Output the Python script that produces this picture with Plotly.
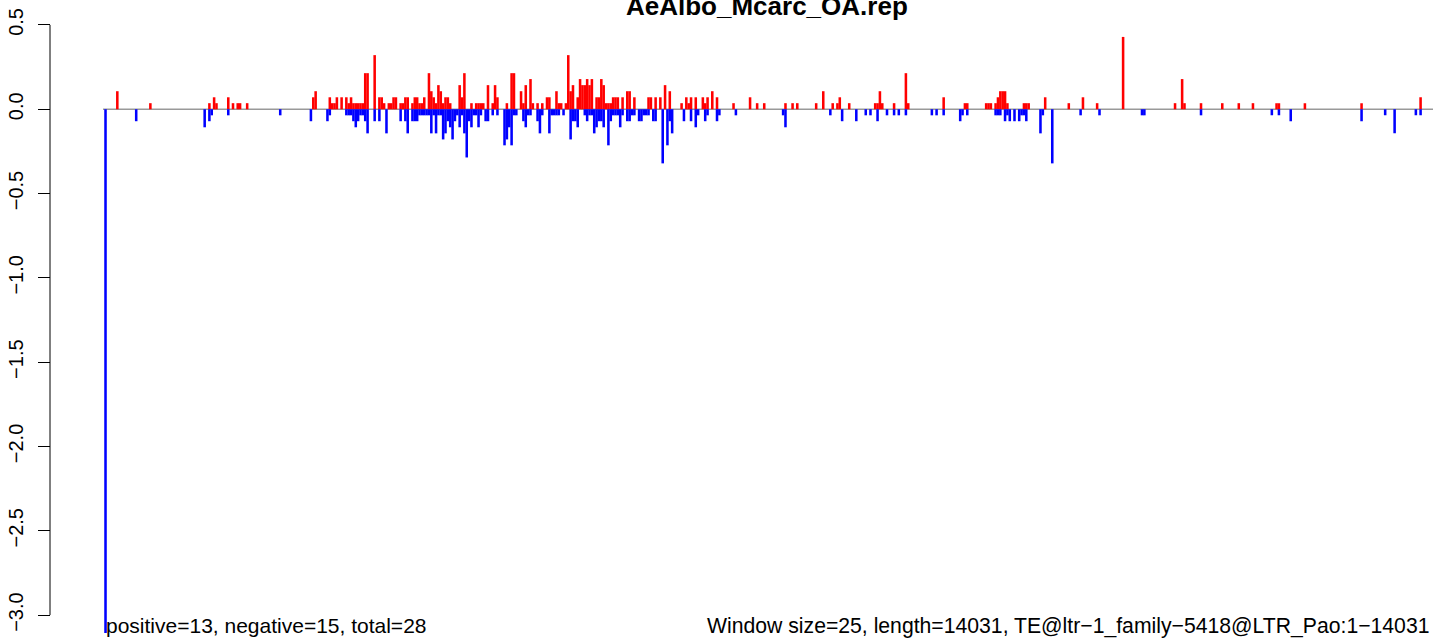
import plotly.graph_objects as go

# ---------------- data ----------------
window_size = 25
seq_length = 14031

pos_window = [5, 19, 44, 46, 47, 52, 54, 56, 57, 60,
              88, 89, 95, 96, 97, 98, 100, 102, 103, 104,
              105, 106, 107, 108, 109, 110, 111, 114, 116, 117,
              118, 120, 121, 122, 123, 125, 126, 127, 128, 130,
              131, 132, 133, 134, 135, 137, 138, 139, 140, 141,
              142, 143, 144, 145, 146, 150, 151, 152, 155, 157,
              158, 159, 160, 162, 164, 165, 166, 170, 172, 173,
              176, 177, 178, 180, 181, 183, 185, 187, 188, 191,
              192, 193, 195, 196, 197, 198, 200, 201, 202, 203,
              204, 205, 206, 208, 209, 210, 211, 212, 213, 214,
              215, 216, 217, 219, 221, 222, 224, 230, 231, 233,
              235, 237, 239, 244, 246, 247, 248, 250, 253, 254,
              255, 257, 259, 266, 273, 276, 279, 288, 291, 293,
              301, 304, 308, 310, 311, 315, 326, 327, 328, 329,
              334, 339, 340, 355, 364, 365, 373, 374, 375, 377,
              378, 379, 380, 381, 382, 389, 390, 391, 398, 408,
              414, 420, 431, 453, 456, 457, 464, 473, 480, 486,
              496, 497, 508, 532, 557]
pos_value = [.107, .036, .036, .071, .036, .071, .036, .036, .036, .036,
             .071, .107, .071, .036, .036, .071, .071, .071, .036, .071,
             .036, .036, .036, .036, .036, .214, .214, .321, .071, .071,
             .036, .036, .036, .071, .071, .036, .036, .071, .071, .036,
             .071, .071, .036, .036, .071, .214, .107, .071, .036, .143,
             .107, .036, .071, .071, .036, .143, .071, .214, .036, .036,
             .036, .036, .036, .143, .036, .143, .071, .036, .214, .214,
             .107, .036, .143, .179, .036, .036, .036, .071, .071, .107,
             .036, .036, .036, .321, .107, .143, .071, .179, .143, .143,
             .179, .143, .179, .071, .071, .179, .143, .036, .036, .036,
             .071, .071, .071, .071, .107, .107, .071, .071, .071, .071,
             .071, .143, .107, .036, .071, .036, .071, .071, .071, .036,
             .071, .107, .071, .036, .071, .036, .036, .036, .036, .036,
             .036, .107, .036, .036, .071, .036, .036, .036, .107, .036,
             .036, .214, .036, .071, .036, .036, .036, .036, .036, .036,
             .071, .107, .107, .107, .036, .036, .036, .036, .071, .036,
             .071, .036, .429, .036, .179, .036, .036, .036, .036, .036,
             .036, .036, .036, .036, .071]

neg_window = [0, 13, 42, 44, 45, 52, 74, 87, 94, 95,
              102, 103, 104, 105, 106, 107, 108, 109, 110, 111,
              114, 116, 119, 125, 127, 128, 130, 131, 132, 133,
              134, 135, 136, 137, 138, 139, 140, 141, 142, 143,
              144, 145, 146, 147, 148, 149, 150, 151, 152, 153,
              154, 155, 156, 157, 158, 159, 161, 162, 164, 166,
              169, 170, 171, 172, 173, 174, 177, 178, 179, 180,
              183, 184, 185, 188, 189, 190, 191, 192, 194, 197,
              198, 199, 200, 203, 204, 205, 206, 207, 208, 209,
              210, 211, 213, 214, 215, 216, 217, 218, 219, 221,
              222, 223, 224, 226, 227, 228, 229, 230, 232, 233,
              236, 238, 239, 240, 245, 248, 250, 251, 254, 255,
              259, 260, 267, 287, 288, 307, 312, 318, 322, 324,
              327, 331, 334, 336, 339, 350, 352, 355, 362, 363,
              365, 377, 378, 379, 381, 382, 383, 385, 387, 388,
              389, 390, 396, 397, 401, 413, 421, 439, 440, 464,
              494, 497, 502, 532, 542, 546, 555, 557]
neg_value = [-3.107, -.071, -.107, -.071, -.036, -.036, -.036, -.071, -.071, -.036,
             -.036, -.036, -.036, -.071, -.107, -.071, -.036, -.036, -.071, -.143,
             -.071, -.071, -.143, -.071, -.071, -.143, -.071, -.071, -.071, -.036,
             -.036, -.036, -.036, -.036, -.143, -.036, -.143, -.036, -.036, -.179,
             -.143, -.071, -.107, -.179, -.071, -.036, -.107, -.036, -.143, -.286,
             -.071, -.107, -.036, -.036, -.107, -.036, -.071, -.071, -.036, -.036,
             -.214, -.179, -.107, -.214, -.036, -.036, -.071, -.107, -.036, -.036,
             -.071, -.143, -.036, -.143, -.036, -.036, -.036, -.036, -.036, -.179,
             -.071, -.071, -.107, -.036, -.071, -.036, -.036, -.143, -.107, -.071,
             -.071, -.107, -.214, -.071, -.036, -.036, -.036, -.107, -.036, -.071,
             -.071, -.036, -.036, -.071, -.071, -.036, -.036, -.036, -.071, -.071,
             -.321, -.214, -.071, -.143, -.071, -.071, -.107, -.036, -.071, -.036,
             -.071, -.036, -.036, -.036, -.107, -.036, -.071, -.071, -.036, -.036,
             -.071, -.036, -.036, -.036, -.036, -.036, -.036, -.036, -.071, -.036,
             -.036, -.036, -.036, -.036, -.071, -.036, -.071, -.071, -.071, -.036,
             -.036, -.071, -.143, -.036, -.321, -.036, -.036, -.036, -.036, -.036,
             -.036, -.036, -.071, -.071, -.036, -.143, -.036, -.036]

y_tick_values = [-3.0, -2.5, -2.0, -1.5, -1.0, -0.5, 0.0, 0.5]
y_tick_labels = ["\u22123.0", "\u22122.5", "\u22122.0", "\u22121.5",
                 "\u22121.0", "\u22120.5", "0.0", "0.5"]

title_text = "AeAlbo_Mcarc_OA.rep"
left_note = "positive=13, negative=15, total=28"
right_note = ("Window size=25, length=14031, "
              "TE@ltr\u22121_family\u22125418@LTR_Pao:1\u221214031")

# ---------------- figure ----------------
W, H = 1433, 639
FONT = "Liberation Sans, Arial, Helvetica, sans-serif"

pos_x = [w * window_size for w in pos_window]
neg_x = [w * window_size for w in neg_window]

fig = go.Figure()
fig.add_trace(go.Bar(x=pos_x, y=pos_value, width=27,
                     marker=dict(color="#FF0000", line=dict(width=0)),
                     showlegend=False, hoverinfo="skip"))
fig.add_trace(go.Bar(x=neg_x, y=neg_value, width=27,
                     marker=dict(color="#0000FF", line=dict(width=0)),
                     showlegend=False, hoverinfo="skip"))

x_left_px, x_right_px = 104.0, 1430.6
axis_px = 50.0

fig.update_layout(
    width=W, height=H,
    margin=dict(l=0, r=0, t=0, b=0),
    paper_bgcolor="white", plot_bgcolor="white",
    barmode="overlay",
    font=dict(family=FONT, color="black"),
    xaxis=dict(domain=[x_left_px / W, x_right_px / W],
               range=[-16, seq_length], visible=False, fixedrange=True),
    yaxis=dict(range=[-3.142, 0.648], domain=[0, 1],
               anchor="free", position=axis_px / W,
               showgrid=False, zeroline=False, showline=False,
               tickmode="array", tickvals=y_tick_values, ticktext=y_tick_labels,
               ticks="outside", ticklen=12, tickwidth=1, tickcolor="black",
               tickangle=-90, ticklabelstandoff=7,
               tickfont=dict(family=FONT, size=20, color="black")),
    shapes=[
        dict(type="line", xref="paper", yref="y",
             x0=103 / W, x1=1.0, y0=0, y1=0,
             line=dict(color="#999999", width=1.5), layer="below"),
        dict(type="line", xref="paper", yref="y",
             x0=axis_px / W, x1=axis_px / W, y0=-3.0, y1=0.5,
             line=dict(color="black", width=1)),
    ],
    annotations=[
        dict(text="<b>" + title_text + "</b>", xref="paper", yref="paper",
             x=767 / W, y=1 - 6 / H, xanchor="center", yanchor="middle",
             showarrow=False, font=dict(family=FONT, size=26, color="black")),
        dict(text=left_note, xref="paper", yref="paper",
             x=104 / W, y=1 - 625.5 / H, xanchor="left", yanchor="middle",
             showarrow=False, font=dict(family=FONT, size=21, color="black")),
        dict(text=right_note, xref="paper", yref="paper",
             x=1431 / W, y=1 - 625.5 / H, xanchor="right", yanchor="middle",
             showarrow=False, font=dict(family=FONT, size=21.2, color="black")),
    ],
)

fig.write_html("out.html",
               config={"displayModeBar": False},
               post_script="document.body.style.margin='0px';"
                           "document.body.style.overflow='hidden';")
